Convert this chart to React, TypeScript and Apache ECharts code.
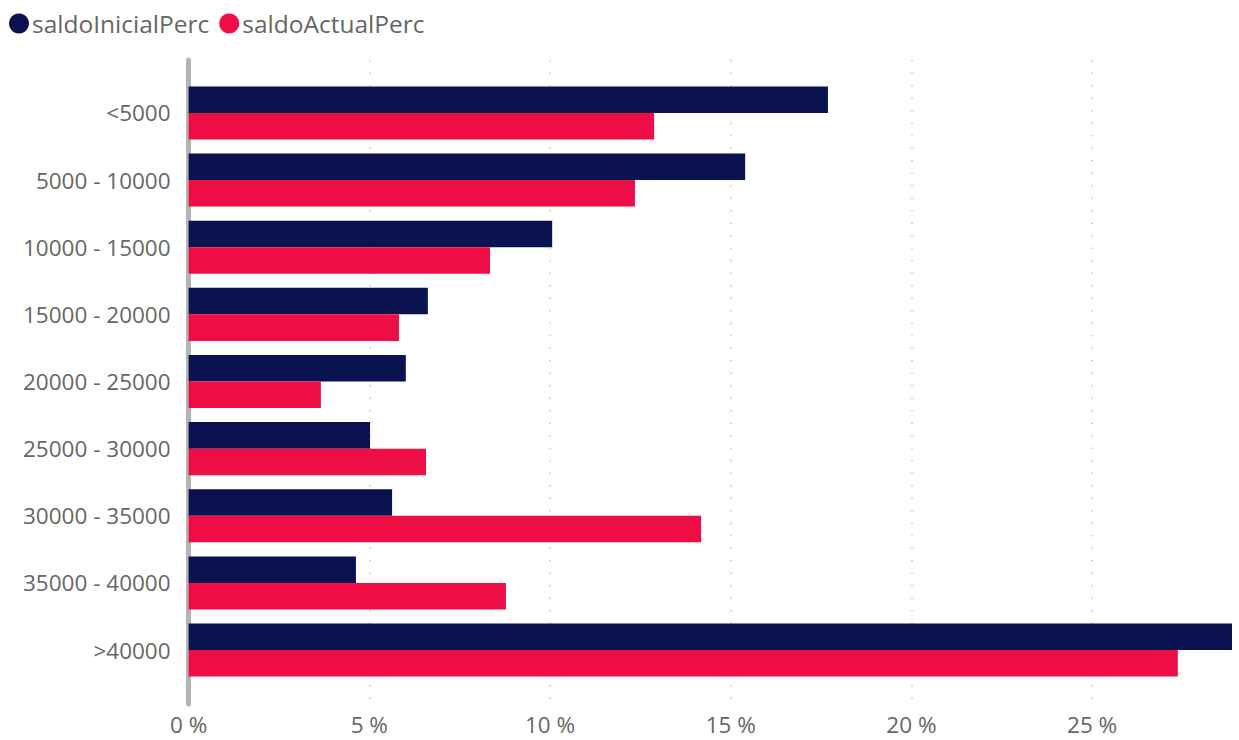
import React, { useEffect, useRef } from "react";
import * as echarts from "echarts";

const categories = [
  "<5000",
  "5000 - 10000",
  "10000 - 15000",
  "15000 - 20000",
  "20000 - 25000",
  "25000 - 30000",
  "30000 - 35000",
  "35000 - 40000",
  ">40000",
];
const saldoInicialPerc = [17.69, 15.4, 10.06, 6.62, 6.01, 5.02, 5.63, 4.63, 28.87];
const saldoActualPerc = [12.88, 12.35, 8.34, 5.82, 3.66, 6.57, 14.18, 8.78, 27.37];
const xMax = 28.87;
const gridMax = 25;

const FONT = "'Open Sans', 'Noto Sans', sans-serif";
const NAVY = "#0B1250";
const RED = "#EE0D44";
const GREY_TEXT = "#666666";

export default function App() {
  const ref = useRef<HTMLDivElement>(null);
  useEffect(() => {
    if (!ref.current) return;
    const chart = echarts.init(ref.current, null, { renderer: "svg" });
    const left = 188.6;
    const right = 7;
    const plotW = 1239 - left - right;
    const outerRight = 1239 - (left + (plotW * gridMax) / xMax);
    chart.setOption({
      animation: false,
      backgroundColor: "#ffffff",
      textStyle: { fontFamily: FONT },
      legend: {
        left: 4,
        top: 6,
        icon: "circle",
        itemWidth: 20,
        itemHeight: 20,
        itemGap: 10,
        textStyle: { fontSize: 24.5, color: GREY_TEXT, fontFamily: FONT, padding: [0, 0, 0, -2] },
        data: ["saldoInicialPerc", "saldoActualPerc"],
      },
      grid: [
        { left, right, top: 79.4, bottom: 56.4, containLabel: false },
        { left, right: outerRight, top: 60, bottom: 36, containLabel: false },
      ],
      xAxis: [
        { type: "value", gridIndex: 0, min: 0, max: xMax, show: false },
        {
          type: "value",
          gridIndex: 1,
          min: 0,
          max: gridMax,
          interval: 5,
          axisLine: { show: false },
          axisTick: { show: false },
          axisLabel: {
            formatter: (v: number) => `${v} %`,
            fontSize: 22.5,
            color: GREY_TEXT,
            margin: 9,
            fontFamily: FONT,
          },
          splitLine: {
            show: true,
            lineStyle: { color: "#c8c8c8", width: 1.5, type: [1.5, 11] },
          },
        },
      ],
      yAxis: [
        {
          type: "category",
          gridIndex: 0,
          data: categories,
          inverse: true,
          axisLine: { show: false },
          axisTick: { show: false },
          axisLabel: { fontSize: 22.5, color: GREY_TEXT, margin: 18, fontFamily: FONT },
        },
        {
          type: "value",
          gridIndex: 1,
          axisLine: { show: true, lineStyle: { color: "#b4b4b4", width: 5 } },
          axisTick: { show: false },
          axisLabel: { show: false },
          splitLine: { show: false },
        },
      ],
      series: [
        {
          name: "saldoInicialPerc",
          type: "bar",
          xAxisIndex: 0,
          yAxisIndex: 0,
          data: saldoInicialPerc,
          itemStyle: { color: NAVY },
          barGap: "0%",
          barCategoryGap: "21%",
        },
        {
          name: "saldoActualPerc",
          type: "bar",
          xAxisIndex: 0,
          yAxisIndex: 0,
          data: saldoActualPerc,
          itemStyle: { color: RED },
          barGap: "0%",
          barCategoryGap: "21%",
        },
      ],
    });
    return () => chart.dispose();
  }, []);
  return (
    <div
      ref={ref}
      style={{ position: "fixed", left: 0, top: 0, width: 1239, height: 740, background: "#fff" }}
    />
  );
}
